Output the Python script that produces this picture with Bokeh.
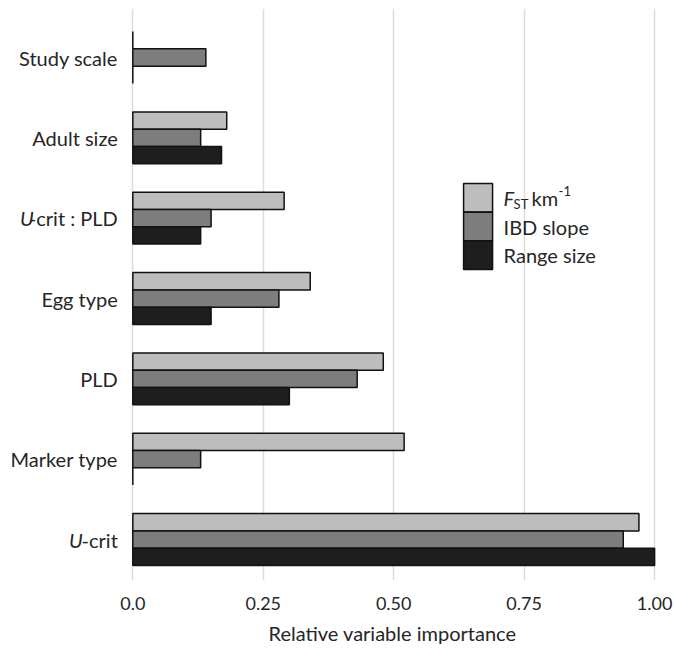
from bokeh.plotting import figure
from bokeh.models import Range1d, FixedTicker, ColumnDataSource, Title
from bokeh.core.properties import value
from bokeh.embed import file_html
from bokeh.resources import INLINE

# ---- data (categories listed bottom to top) ----
categories = ["U-crit", "Marker type", "PLD", "Egg type", "U-crit : PLD", "Adult size", "Study scale"]
fst_km = [0.97, 0.52, 0.48, 0.34, 0.29, 0.18, 0.0]
ibd_slope = [0.94, 0.13, 0.43, 0.28, 0.15, 0.13, 0.14]
range_size = [1.00, 0.0, 0.30, 0.15, 0.13, 0.17, 0.0]
series_labels = ["IBD slope", "Range size"]
x_ticks = [0, 0.25, 0.5, 0.75, 1.0]
x_tick_labels = ["0.0", "0.25", "0.50", "0.75", "1.00"]
x_label = "Relative variable importance"

# ---- styles ----
colors = ["#bdbdbd", "#7d7d7d", "#1e1e1e"]
FONT = value("Lato")
TXT = "#262626"
BAR_H = 0.215

# frame spans the full width so the category labels (left of x=0) are not clipped
p = figure(width=674, height=650, output_backend="svg", toolbar_location=None,
           x_range=Range1d(-0.2536, 1.019), y_range=Range1d(-0.51, 6.61),
           min_border_left=0, min_border_right=10, min_border_top=8, min_border_bottom=0)
p.outline_line_color = None
p.yaxis.visible = False
p.ygrid.visible = False
p.xgrid.grid_line_color = "#dcdcdc"
p.xgrid.grid_line_width = 1.5

idx = list(range(len(categories)))
series = [fst_km, ibd_slope, range_size]
offsets = [BAR_H, 0.0, -BAR_H]
for vals, off, col in zip(series, offsets, colors):
    src = ColumnDataSource(dict(y=[i + off for i in idx], right=vals))
    p.hbar(y="y", left=0, right="right", height=BAR_H, source=src,
           fill_color=col, line_color="#111111", line_width=1.5)

# x axis
ax = p.xaxis[0]
ax.ticker = FixedTicker(ticks=x_ticks)
ax.major_label_overrides = {t: l for t, l in zip(x_ticks, x_tick_labels)}
ax.axis_line_color = None
ax.major_tick_line_color = None
ax.minor_tick_line_color = None
ax.major_label_standoff = 10
ax.major_label_text_font = "Lato"
ax.major_label_text_font_size = "18px"
ax.major_label_text_color = TXT

# axis title, centred under the 0..1 part of the axis
p.add_layout(Title(text=x_label, align="left", offset=268, standoff=12,
                   text_font="Lato", text_font_size="20px", text_font_style="normal",
                   text_color=TXT), "below")


def add_text(x, y, text, dx=0, dy=0, size="20px", style="normal", align="left"):
    p.text(x=[x], y=[y], text=[text], x_offset=dx, y_offset=dy,
           text_align=align, text_baseline="middle", text_font=FONT,
           text_font_size=size, text_font_style=style, text_color=TXT)


# y category labels (italic "U" where needed)
rest_widths = {"-crit": 35, "-crit : PLD": 84}
for i, c in zip(idx, categories):
    if c.startswith("U-"):
        rest = c[1:]
        add_text(0, i, rest, dx=-15, align="right")
        add_text(0, i, "U", dx=-15 - rest_widths[rest], style="italic", align="right")
    else:
        add_text(0, i, c, dx=-15, align="right")

# legend (manual)
LX, TX = 0.6617, 0.7106
LY = [4.254, 3.896, 3.539]
p.rect(x=[LX] * 3, y=LY, width=29, height=28.7, width_units="screen", height_units="screen",
       fill_color=colors, line_color="#111111", line_width=1.5)
for ly, lab in zip(LY[1:], series_labels):
    add_text(TX, ly, lab)
add_text(TX, LY[0], "F", style="italic")
add_text(TX, LY[0], "ST", dx=10, dy=6, size="13px")
add_text(TX, LY[0], "km", dx=28)
add_text(TX, LY[0], "-1", dx=55, dy=-7, size="13px")

open("out.html", "w").write(file_html(p, INLINE))
